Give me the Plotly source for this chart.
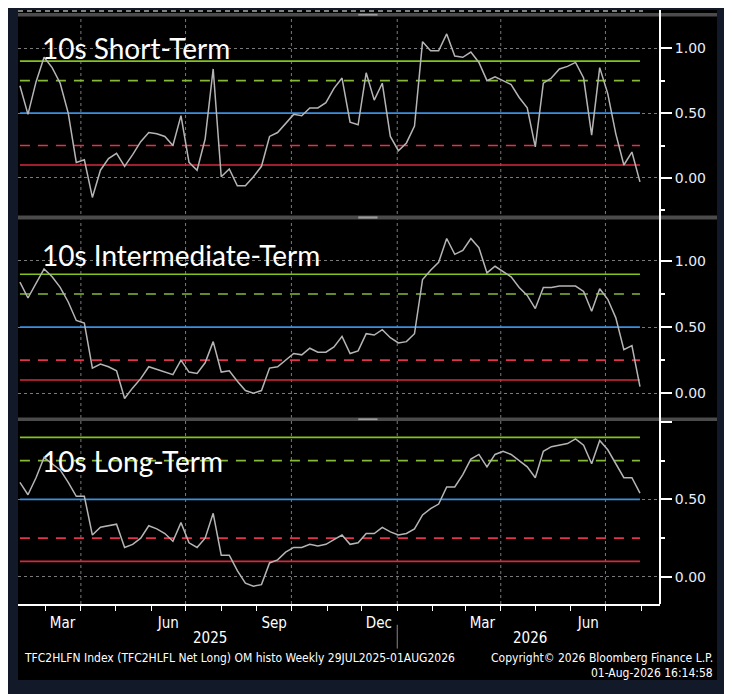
import pandas as pd
import plotly.graph_objects as go
from plotly.subplots import make_subplots

# weekly CFTC readings, Feb 2025 - Jul 2026
dates = pd.date_range("2025-02-07", periods=78, freq="7D")

short_term = [0.71, 0.49, 0.74, 0.93, 0.85, 0.73, 0.50, 0.12, 0.14, -0.15,
              0.06, 0.15, 0.19, 0.09, 0.18, 0.28, 0.35, 0.34, 0.32, 0.25,
              0.48, 0.12, 0.06, 0.30, 0.84, 0.01, 0.07, -0.06, -0.06, 0.01,
              0.09, 0.32, 0.35, 0.42, 0.49, 0.48, 0.54, 0.54, 0.58, 0.69,
              0.77, 0.43, 0.41, 0.81, 0.60, 0.73, 0.32, 0.21, 0.27, 0.40,
              1.05, 0.98, 0.98, 1.11, 0.94, 0.93, 0.97, 0.89, 0.75, 0.78,
              0.75, 0.72, 0.62, 0.54, 0.24, 0.73, 0.77, 0.84, 0.86, 0.89,
              0.77, 0.33, 0.85, 0.65, 0.34, 0.10, 0.20, -0.03]

intermediate_term = [0.84, 0.72, 0.83, 0.94, 0.88, 0.80, 0.69, 0.55, 0.53, 0.19,
                     0.22, 0.20, 0.17, -0.04, 0.04, 0.11, 0.20, 0.18, 0.16, 0.14,
                     0.25, 0.16, 0.15, 0.23, 0.39, 0.16, 0.17, 0.09, 0.02, 0.00,
                     0.02, 0.19, 0.20, 0.25, 0.30, 0.29, 0.34, 0.31, 0.31, 0.35,
                     0.43, 0.30, 0.32, 0.45, 0.44, 0.48, 0.42, 0.38, 0.39, 0.45,
                     0.86, 0.93, 0.99, 1.17, 1.05, 1.08, 1.17, 1.10, 0.91, 0.96,
                     0.92, 0.88, 0.80, 0.74, 0.64, 0.80, 0.80, 0.81, 0.81, 0.81,
                     0.77, 0.62, 0.79, 0.71, 0.57, 0.33, 0.36, 0.05]

long_term = [0.61, 0.53, 0.64, 0.77, 0.73, 0.69, 0.61, 0.52, 0.52, 0.27,
             0.32, 0.33, 0.34, 0.19, 0.21, 0.25, 0.33, 0.31, 0.28, 0.23,
             0.35, 0.22, 0.19, 0.25, 0.41, 0.14, 0.14, 0.04, -0.04, -0.06,
             -0.05, 0.09, 0.11, 0.16, 0.19, 0.19, 0.21, 0.20, 0.21, 0.24,
             0.27, 0.21, 0.22, 0.28, 0.28, 0.32, 0.29, 0.27, 0.28, 0.31,
             0.40, 0.44, 0.47, 0.58, 0.58, 0.66, 0.76, 0.79, 0.71, 0.79,
             0.81, 0.79, 0.75, 0.71, 0.64, 0.81, 0.84, 0.85, 0.86, 0.89,
             0.85, 0.73, 0.88, 0.82, 0.73, 0.64, 0.64, 0.54]

titles = ["10s Short-Term", "10s Intermediate-Term", "10s Long-Term"]
series = [short_term, intermediate_term, long_term]

# threshold bands
levels = [0.9, 0.75, 0.5, 0.25, 0.1]
level_colors = ["#82c31e", "#86b83a", "#3d8ee0", "#e2334a", "#d42a3c"]
level_dash = ["solid", "10px,8px", "solid", "10px,8px", "solid"]

y_ranges = [[-0.285, 1.24], [-0.18, 1.31], [-0.175, 1.006]]
domains = [[0.6549, 0.9882], [0.3148, 0.6465], [0.0, 0.3081]]
title_y = [0.936, 0.5875, 0.2407]

month_ticks = ["2025-03-16", "2025-06-16", "2025-09-16", "2025-12-16",
               "2026-03-16", "2026-06-16"]
month_text = ["Mar", "Jun", "Sep", "Dec", "Mar", "Jun"]
quarter_lines = ["2025-04-01", "2025-07-01", "2025-10-01", "2026-01-01",
                 "2026-04-01", "2026-07-01"]
month_starts = pd.date_range("2025-03-01", "2026-08-01", freq="MS")

BG = "#121a29"
narrow = "Liberation Sans Narrow, DejaVu Sans Condensed, Arial Narrow, sans-serif"

fig = make_subplots(rows=3, cols=1, shared_xaxes=True)

for i, vals in enumerate(series):
    row = i + 1
    for lvl, col, dash in zip(levels, level_colors, level_dash):
        fig.add_trace(go.Scatter(x=[dates[0], dates[-1]], y=[lvl, lvl], mode="lines",
                                 line=dict(color=col, width=1.6, dash=dash),
                                 hoverinfo="skip", showlegend=False), row=row, col=1)
    fig.add_trace(go.Scatter(x=dates, y=vals, mode="lines", name=titles[i],
                             line=dict(color="#b5b5b5", width=1.5),
                             showlegend=False), row=row, col=1)
    fig.update_yaxes(domain=domains[i], range=y_ranges[i], side="right",
                     tickvals=[0, 0.5, 1.0],
                     ticktext=["0.00", "0.50", "" if row == 3 else "1.00"],
                     ticks="outside", ticklen=11, tickwidth=2, tickcolor="white",
                     tickfont=dict(family="DejaVu Sans", size=14, color="#e6ecfa"),
                     showgrid=True, gridcolor="#7a7a7a", griddash="dot", gridwidth=1,
                     zeroline=False, showline=False,
                     minor=dict(tickmode="array", tickvals=[-0.25, 0.25, 0.75],
                                ticks="outside", ticklen=4, tickcolor="white",
                                showgrid=False),
                     row=row, col=1)
    fig.add_annotation(x=0.0343, y=title_y[i], xref="paper", yref="paper",
                       text=titles[i], showarrow=False, xanchor="left",
                       yanchor="middle", font=dict(family="Lato", size=28, color="white"))

fig.update_xaxes(range=["2025-02-05 08:00", "2026-08-17 10:00"], showgrid=False,
                 zeroline=False)
fig.update_xaxes(tickvals=month_ticks, ticktext=month_text, ticks="",
                 ticklabelstandoff=4,
                 tickfont=dict(family=narrow, size=15, color="white"),
                 showline=True, linecolor="white", linewidth=2,
                 minor=dict(tickmode="array", tickvals=list(month_starts),
                            ticks="outside", ticklen=5, tickcolor="white",
                            showgrid=False),
                 row=3, col=1)

shapes = []
# black chart canvas
shapes.append(dict(type="rect", xref="paper", yref="paper", x0=0, x1=1.0888,
                   y0=-0.128, y1=1.0, fillcolor="black", line_width=0, layer="below"))
# quarter gridlines through all panels
for q in quarter_lines:
    shapes.append(dict(type="line", xref="x3", yref="paper", x0=q, x1=q, y0=0, y1=1.0,
                       line=dict(color="#7a7a7a", width=1, dash="dot"), layer="below"))
# top dashed strip and panel separators
shapes.append(dict(type="line", xref="paper", yref="paper", x0=0, x1=0.9735,
                   y0=0.9983, y1=0.9983, line=dict(color="white", width=1.2, dash="5px,4px")))
for y0, y1 in [(0.989, 0.995), (0.6473, 0.654), (0.3081, 0.314)]:
    shapes.append(dict(type="rect", xref="paper", yref="paper", x0=0, x1=1.0888,
                       y0=y0, y1=y1, fillcolor="#4b4b4b", line_width=0))
    shapes.append(dict(type="rect", xref="paper", yref="paper", x0=0.53, x1=0.56,
                       y0=y0 + 0.0015, y1=y1 - 0.0015, fillcolor="#9c9c9c", line_width=0))
# right value axis line
shapes.append(dict(type="line", xref="paper", yref="paper", x0=1, x1=1, y0=0, y1=1.0,
                   line=dict(color="white", width=2)))
# year divider
shapes.append(dict(type="line", xref="x3", yref="paper", x0="2026-01-01", x1="2026-01-01",
                   y0=-0.035, y1=-0.075, line=dict(color="#8a8a8a", width=1)))

annotations = [
    dict(x=0.299, y=-0.0572, text="2025"),
    dict(x=0.7975, y=-0.0572, text="2026"),
]
for a in annotations:
    fig.add_annotation(xref="paper", yref="paper", showarrow=False, xanchor="center",
                       yanchor="middle", font=dict(family=narrow, size=15, color="white"), **a)

footer_font = dict(family=narrow, size=12, color="white")
fig.add_annotation(x=0.0062, y=-0.0909, xref="paper", yref="paper", showarrow=False,
                   xanchor="left", yanchor="middle", font=footer_font,
                   text="TFC2HLFN Index (TFC2HLFL Net Long) OM histo Weekly 29JUL2025-01AUG2026")
fig.add_annotation(x=1.0857, y=-0.0909, xref="paper", yref="paper", showarrow=False,
                   xanchor="right", yanchor="middle", font=footer_font,
                   text="Copyright\u00a9 2026 Bloomberg Finance L.P.")
fig.add_annotation(x=1.0857, y=-0.1162, xref="paper", yref="paper", showarrow=False,
                   xanchor="right", yanchor="middle", font=footer_font,
                   text="01-Aug-2026 16:14:58")

# page adds an 8px body margin, so the figure is drawn 8px smaller and offset
fig.update_layout(width=724, height=686, margin=dict(l=10, r=72, t=2, b=90),
                  paper_bgcolor=BG, plot_bgcolor="black", shapes=shapes,
                  showlegend=False, hovermode="x")

fig.write_html("out.html")
